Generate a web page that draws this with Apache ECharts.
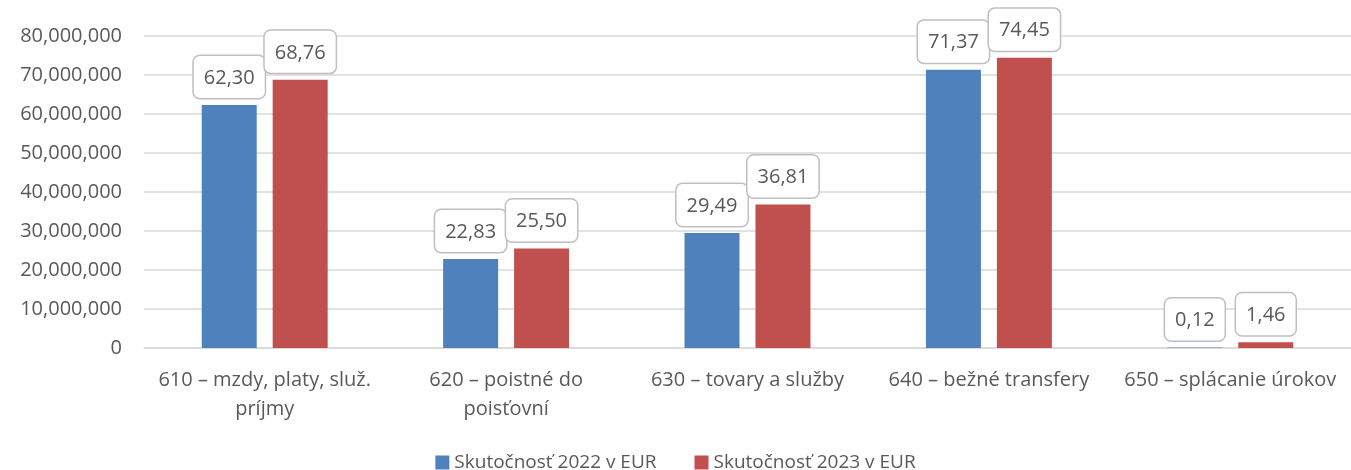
<!DOCTYPE html>
<html>
<head>
    <meta charset="utf-8">
    <title>ECharts</title>
    <script src="https://cdn.jsdelivr.net/npm/echarts@6/dist/echarts.min.js"></script>
    <style>
    *{margin:0px; padding:0px;}
    body{background:#fff;}
    </style>
</head>
<body>
    <div id="main" style="width: 1351px;height:470px;"></div>
    <script type="text/javascript">
        // values in EUR
        var categories = ['610 – mzdy, platy, služ.\npríjmy', '620 – poistné do\npoisťovní', '630 – tovary a služby', '640 – bežné transfery', '650 – splácanie úrokov'];
        var seriesNames = ['Skutočnosť 2022 v EUR', 'Skutočnosť 2023 v EUR'];
        var values2022 = [62300000, 22830000, 29490000, 71370000, 120000];
        var values2023 = [68760000, 25500000, 36810000, 74450000, 1460000];

        var myChart = echarts.init(document.getElementById('main'));
        var font = '"Open Sans", "Noto Sans", sans-serif';

        function millions(p) {
            return (p.value / 1000000).toFixed(2).replace('.', ',');
        }

        var labelStyle = {
            show: true,
            position: 'top',
            distance: 7,
            formatter: millions,
            color: '#595959',
            fontFamily: font,
            fontSize: 20,
            backgroundColor: '#fff',
            borderColor: '#bfbfbf',
            borderWidth: 1.5,
            borderRadius: 6,
            padding: [12, 10, 10, 10]
        };

        var option = {
            animation: false,
            grid: { left: 144, top: 36, width: 1217, bottom: 122, containLabel: false },
            legend: {
                bottom: -7,
                left: 'center',
                itemWidth: 14,
                itemHeight: 14,
                itemGap: 38,
                icon: 'rect',
                textStyle: { color: '#595959', fontFamily: font, fontSize: 19 },
                data: seriesNames
            },
            xAxis: {
                type: 'category',
                data: categories,
                axisLine: { lineStyle: { color: '#d9d9d9', width: 1.5 } },
                axisTick: { show: false },
                axisLabel: { color: '#595959', fontFamily: font, fontSize: 20, margin: 18, lineHeight: 29, interval: 0 }
            },
            yAxis: {
                type: 'value',
                min: 0,
                max: 80000000,
                interval: 10000000,
                axisLine: { show: false },
                axisTick: { show: false },
                splitLine: { lineStyle: { color: '#d9d9d9', width: 1.5 } },
                axisLabel: {
                    color: '#595959', fontFamily: font, fontSize: 20, margin: 22,
                    formatter: function (v) { return v.toLocaleString('en-US'); }
                }
            },
            series: [
                {
                    name: seriesNames[0], type: 'bar', data: values2022,
                    barWidth: 55, barGap: '29%',
                    itemStyle: { color: '#4f81bd' },
                    label: labelStyle
                },
                {
                    name: seriesNames[1], type: 'bar', data: values2023,
                    barWidth: 55,
                    itemStyle: { color: '#c0504d' },
                    label: labelStyle
                }
            ]
        };

        myChart.setOption(option);
    </script>
</body>
</html>
